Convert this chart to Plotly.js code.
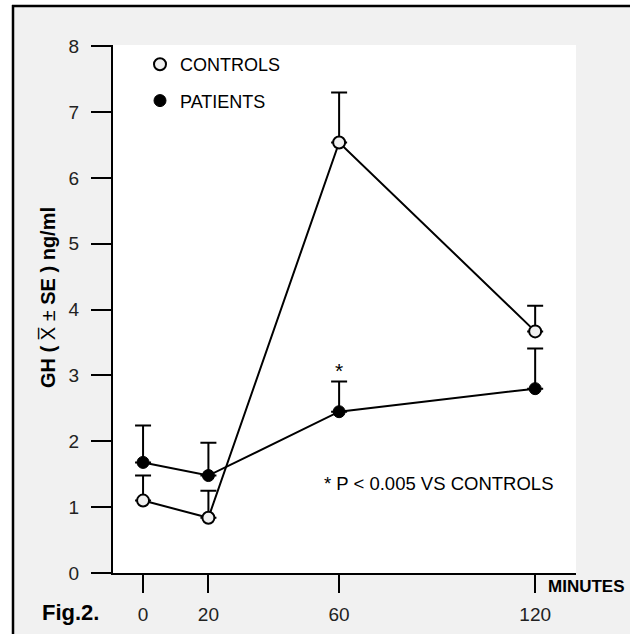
<!DOCTYPE html>
<html>
<head>
<meta charset="utf-8">
<script src="https://cdn.plot.ly/plotly-3.0.1.min.js"></script>
<style>html,body{margin:0;padding:0;background:#fff;}#chart{width:630px;height:634px;}</style>
</head>
<body>
<div id="chart"></div>
<script>
// ---- data ----
const minutes = [0, 20, 60, 120];
const controlsMean = [1.10, 0.84, 6.54, 3.67];
const controlsSE = [0.38, 0.41, 0.76, 0.39];
const patientsMean = [1.68, 1.48, 2.45, 2.80];
const patientsSE = [0.56, 0.50, 0.46, 0.61];
const xTickVals = [0, 20, 60, 120];
const xTickText = ['0', '20', '60', '120'];
const yTickVals = [0, 1, 2, 3, 4, 5, 6, 7, 8];
const seriesNames = ['CONTROLS', 'PATIENTS'];
const footnote = '* P < 0.005 VS CONTROLS';
const sigMark = '*';
const sigX = 60;
const sigY = 3.08;

// ---- layout helpers ----
const W = 630, H = 634;
const M = {l: 113, r: 54, t: 45, b: 61};
const PW = W - M.l - M.r, PH = H - M.t - M.b;
const px = x => (x - M.l) / PW;
const py = y => (H - M.b - y) / PH;

const FONT = 'Liberation Sans, Arial, sans-serif';
const NARROW = 'Liberation Sans Narrow, Arial Narrow, Liberation Sans, sans-serif';

const errStyle = (arr) => ({type: 'data', array: arr, arrayminus: arr.map(() => 0), symmetric: false,
  color: '#000', thickness: 2, width: 8});

const traces = [
  {x: minutes, y: controlsMean, mode: 'lines', line: {color: '#000', width: 2}, showlegend: false, hoverinfo: 'skip'},
  {x: minutes, y: patientsMean, mode: 'lines', line: {color: '#000', width: 2}, showlegend: false, hoverinfo: 'skip'},
  {x: minutes, y: controlsMean, mode: 'markers', name: seriesNames[0], legendgroup: 'c',
   marker: {symbol: 'circle', size: 12, color: '#f0f0f0', line: {color: '#000', width: 2}},
   error_y: errStyle(controlsSE)},
  {x: minutes, y: patientsMean, mode: 'markers', name: seriesNames[1], legendgroup: 'p',
   marker: {symbol: 'circle', size: 12, color: '#000', line: {color: '#000', width: 1}},
   error_y: errStyle(patientsSE)}
];

const layout = {
  width: W, height: H,
  margin: M,
  paper_bgcolor: '#f1f1f1',
  plot_bgcolor: '#ffffff',
  font: {family: FONT, size: 18, color: '#000'},
  showlegend: true,
  legend: {x: px(140), y: py(46), xanchor: 'left', yanchor: 'top', bgcolor: 'rgba(0,0,0,0)',
    font: {family: FONT, size: 18, color: '#000'}, traceorder: 'grouped', tracegroupgap: 10},
  xaxis: {range: [-9.2, 132.5], showline: true, linecolor: '#000', linewidth: 2, zeroline: false, showgrid: false,
    ticks: 'outside', ticklen: 18, tickwidth: 2, tickcolor: '#000', tickvals: xTickVals, ticktext: xTickText,
    ticklabelstandoff: 5, tickfont: {family: FONT, size: 19, color: '#222'}},
  yaxis: {range: [0, 8.02], showline: true, linecolor: '#000', linewidth: 2, zeroline: false, showgrid: false,
    ticks: 'outside', ticklen: 20, tickwidth: 2, tickcolor: '#000', tickvals: yTickVals,
    ticklabelstandoff: 8, tickfont: {family: FONT, size: 19, color: '#222'}},
  annotations: [
    {xref: 'x', yref: 'y', x: sigX, y: sigY, text: sigMark, showarrow: false, font: {family: FONT, size: 21},
     xanchor: 'center', yanchor: 'middle'},
    {xref: 'x', yref: 'y', x: 90.3, y: 1.36, text: footnote, showarrow: false, font: {family: FONT, size: 18.5},
     xanchor: 'center', yanchor: 'middle'},
    {xref: 'paper', yref: 'paper', x: px(586), y: py(586), text: '<b>MINUTES</b>', showarrow: false,
     xanchor: 'center', yanchor: 'middle', font: {family: NARROW, size: 17}},
    {xref: 'paper', yref: 'paper', x: px(70), y: py(612), text: '<b>Fig.2.</b>', showarrow: false,
     xanchor: 'center', yanchor: 'middle', font: {family: NARROW, size: 22}},
    {xref: 'paper', yref: 'paper', x: px(48), y: py(298), textangle: -90, showarrow: false,
     xanchor: 'center', yanchor: 'middle',
     text: '<b>GH ( </b>X\u0305 ± <b>SE ) ng/ml</b>', font: {family: NARROW, size: 20}}
  ],
  shapes: [
    {type: 'rect', xref: 'paper', yref: 'paper', x0: px(-10), x1: px(12), y0: py(660), y1: py(-10),
     fillcolor: '#fff', line: {width: 0}, layer: 'below'},
    {type: 'rect', xref: 'paper', yref: 'paper', x0: px(-10), x1: px(660), y0: py(5), y1: py(-10),
     fillcolor: '#fff', line: {width: 0}, layer: 'below'},
    {type: 'line', xref: 'paper', yref: 'paper', x0: px(13), x1: px(13), y0: py(660), y1: py(5),
     line: {color: '#000', width: 2.5}},
    {type: 'line', xref: 'paper', yref: 'paper', x0: px(12), x1: px(660), y0: py(6), y1: py(6),
     line: {color: '#000', width: 2.5}}
  ]
};

Plotly.newPlot('chart', traces, layout, {displayModeBar: false, staticPlot: true});
</script>
</body>
</html>
